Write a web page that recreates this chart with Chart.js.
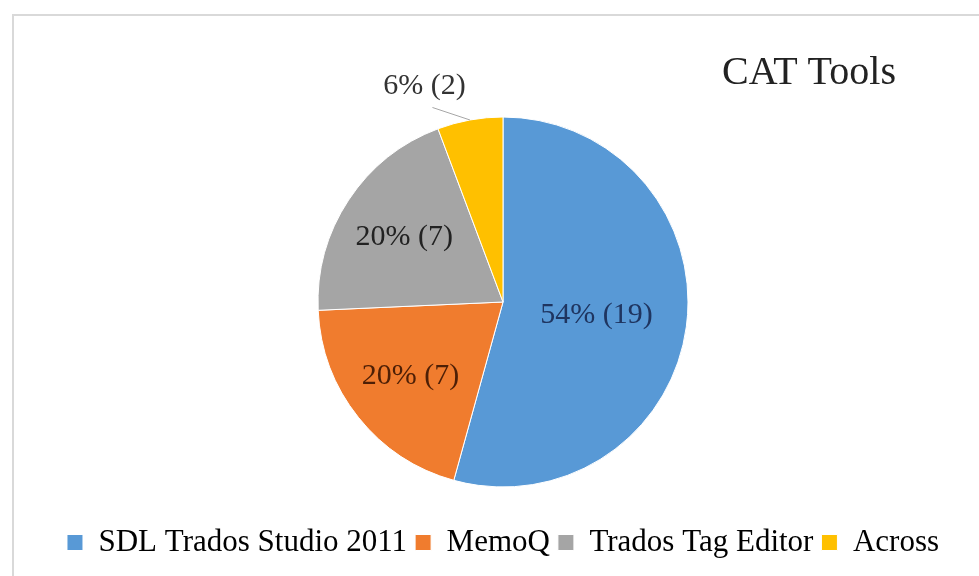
<!DOCTYPE html>
<html>
<head>
<meta charset="UTF-8">
<title>CAT Tools</title>
<script src="https://cdn.jsdelivr.net/npm/chart.js"></script>
<style>
  html, body { margin: 0; padding: 0; background: #fff; }
  .chart-container { position: relative; width: 979px; height: 576px; }
</style>
</head>
<body>
<div class="chart-container"><canvas id="catChart"></canvas></div>
<script>
// data
const categories = ['SDL Trados Studio 2011', 'MemoQ', 'Trados Tag Editor', 'Across'];
const counts = [19, 7, 7, 2];
const sliceColors = ['#5899d6', '#f07c2e', '#a5a5a5', '#ffc000'];
const labelColors = ['#1f3560', '#4d1f06', '#222222', '#333333'];
const chartTitle = 'CAT Tools';

const total = counts.reduce((a, b) => a + b, 0);

// light grey frame (left + top edge only, like the screenshot)
const framePlugin = {
    id: 'frame',
    beforeDraw(chart) {
        const ctx = chart.ctx;
        ctx.save();
        ctx.strokeStyle = '#d9d9d9';
        ctx.lineWidth = 2;
        ctx.beginPath();
        ctx.moveTo(13, chart.height);
        ctx.lineTo(13, 15);
        ctx.lineTo(chart.width, 15);
        ctx.stroke();
        ctx.restore();
    }
};

// title in the top right corner
const titlePlugin = {
    id: 'cornerTitle',
    afterDraw(chart) {
        const ctx = chart.ctx;
        ctx.save();
        ctx.font = '40px "Liberation Serif"';
        ctx.fillStyle = '#222';
        ctx.textAlign = 'center';
        ctx.textBaseline = 'alphabetic';
        ctx.fillText(chartTitle, 809, 84);
        ctx.restore();
    }
};

// "54% (19)" style labels, small slices get a leader line
const sliceLabelPlugin = {
    id: 'sliceLabels',
    afterDatasetsDraw(chart) {
        const ctx = chart.ctx;
        const meta = chart.getDatasetMeta(0);
        ctx.save();
        ctx.font = '30px "Liberation Serif"';
        ctx.textAlign = 'center';
        ctx.textBaseline = 'middle';
        meta.data.forEach((arc, i) => {
            const p = arc.getProps(['x', 'y', 'startAngle', 'endAngle', 'outerRadius']);
            const mid = (p.startAngle + p.endAngle) / 2;
            const share = counts[i] / total;
            const text = Math.round(share * 100) + '% (' + counts[i] + ')';
            ctx.fillStyle = labelColors[i];
            if (share < 0.1) {
                const ex = p.x + p.outerRadius * Math.cos(mid);
                const ey = p.y + p.outerRadius * Math.sin(mid);
                const la = mid - 0.17;
                const lr = p.outerRadius * 1.24;
                const lx = p.x + lr * Math.cos(la);
                const ly = p.y + lr * Math.sin(la);
                ctx.strokeStyle = '#a6a6a6';
                ctx.lineWidth = 1;
                ctx.beginPath();
                ctx.moveTo(ex, ey);
                ctx.lineTo(lx + 8, ly + 21);
                ctx.stroke();
                ctx.fillText(text, lx, ly);
            } else {
                const f = share > 0.5 ? 0.51 : 0.64;
                const r = p.outerRadius * f;
                ctx.fillText(text, p.x + r * Math.cos(mid), p.y + r * Math.sin(mid));
            }
        });
        ctx.restore();
    }
};

Chart.defaults.font.family = '"Liberation Serif", "Times New Roman", serif';

const ctx = document.getElementById('catChart').getContext('2d');
new Chart(ctx, {
    type: 'pie',
    data: {
        labels: categories,
        datasets: [{
            data: counts,
            backgroundColor: sliceColors,
            borderColor: '#ffffff',
            borderWidth: 1
        }]
    },
    options: {
        responsive: true,
        maintainAspectRatio: false,
        animation: false,
        radius: 185,
        layout: { padding: { left: 27, top: 85, right: 0, bottom: 8 } },
        plugins: {
            tooltip: { enabled: false },
            title: { display: false },
            legend: {
                position: 'bottom',
                labels: {
                    color: '#000',
                    font: { size: 31 },
                    boxWidth: 16,
                    boxHeight: 16,
                    padding: 8
                }
            }
        }
    },
    plugins: [framePlugin, titlePlugin, sliceLabelPlugin]
});
</script>
</body>
</html>
